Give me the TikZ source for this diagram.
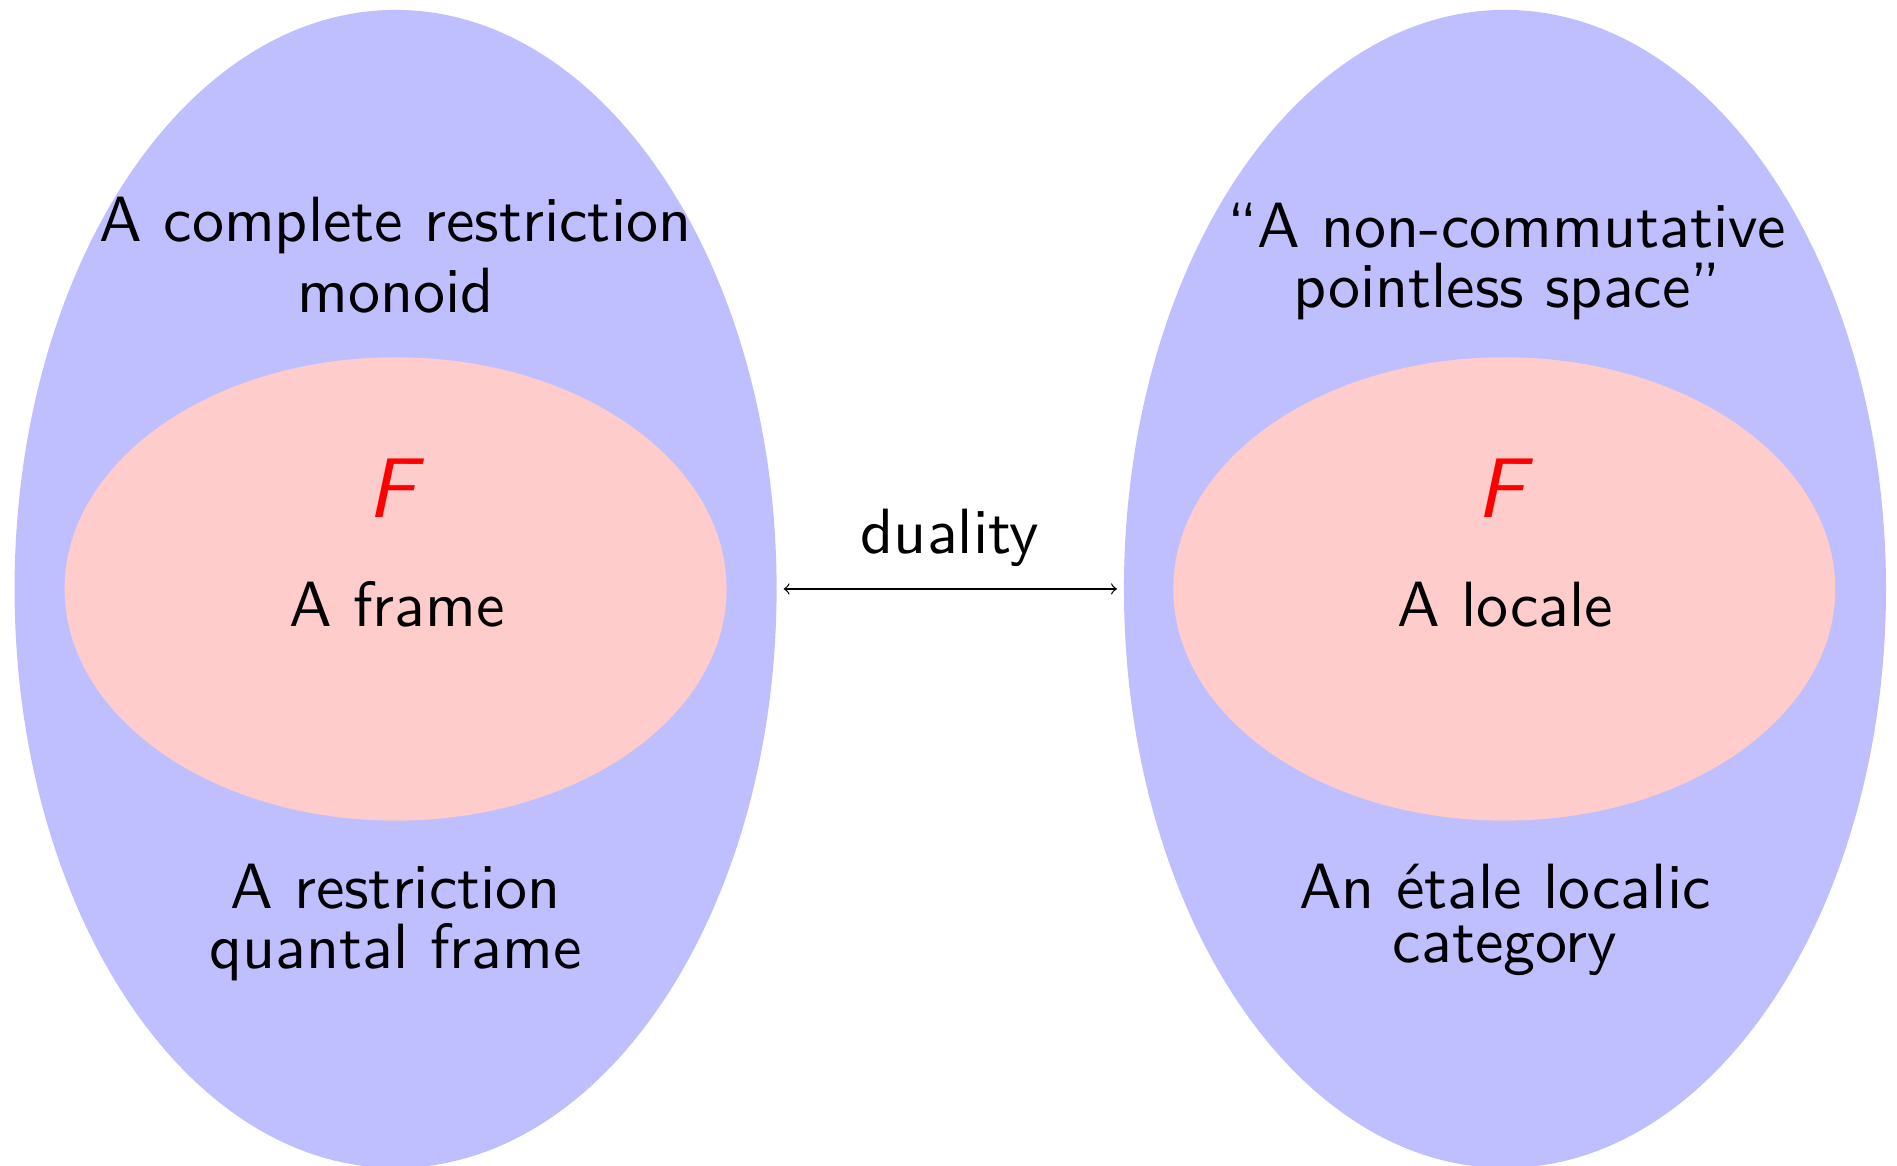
\documentclass[tikz,border=0pt]{standalone}
\usepackage{fontspec}
\setsansfont{lmsans10-regular.otf}[ItalicFont=lmsans10-oblique.otf,BoldFont=lmsans10-bold.otf]
\renewcommand{\familydefault}{\sfdefault}
\usetikzlibrary{shapes.geometric}

\begin{document}
\begin{tikzpicture}[
    region/.style={ellipse,fill=blue!25,inner sep=0pt,minimum width=8.374cm,minimum height=12.726cm},
    core/.style={ellipse,fill=red!20,inner sep=0pt,minimum width=7.274cm,minimum height=5.092cm},
    lbl/.style={align=center,inner sep=0pt,font=\fontsize{20}{18.75}\selectfont},
    letter/.style={text=red,inner sep=0pt,anchor=base,font=\fontsize{26.5}{30}\selectfont\itshape}]
    \useasboundingbox (0,0) rectangle (20.846,12.813);
    \node[region] (lspace) at (4.347,6.341) {};
    \node[region] (rspace) at (16.538,6.341) {};
    \node[core] (lframe) at (4.347,6.341) {};
    \node[core] (rlocale) at (16.53,6.341) {};
    \node[lbl,anchor=north,font=\fontsize{20}{22.2}\selectfont] (ltop) at (4.347,10.653) {A complete restriction\\monoid};
    \node[lbl,anchor=north] (rtop) at (16.56,10.587) {``A non-commutative\\pointless space''};
    \node[letter] (lf) at (4.30,7.121) {F};
    \node[letter] (rf) at (16.495,7.121) {F};
    \node[lbl,anchor=base] (lmid) at (4.36,5.923) {A frame};
    \node[lbl,anchor=base] (rmid) at (16.538,5.923) {A locale};
    \node[lbl,anchor=north] (lbot) at (4.347,3.323) {A restriction\\quantal frame};
    \node[lbl,anchor=north,font=\fontsize{20}{16.7}\selectfont] (rbot) at (16.538,3.323) {An étale localic\\category};
    \node[lbl,anchor=base] (dual) at (10.44,6.725) {duality};
    \draw[<->,shorten <=2pt,shorten >=2pt] (lspace.east) -- (rspace.west);
\end{tikzpicture}
\end{document}
